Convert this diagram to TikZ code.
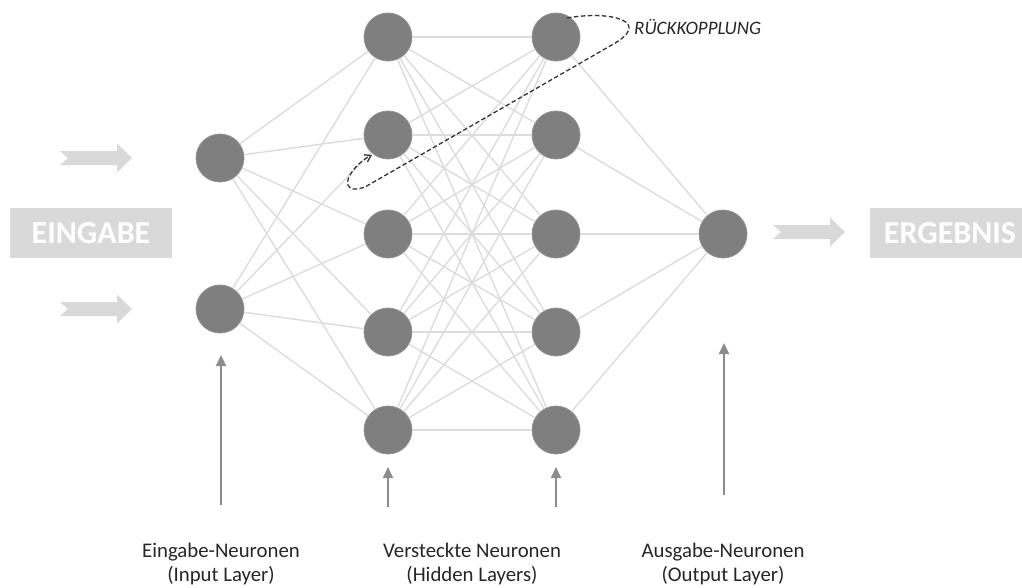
\documentclass[tikz,border=0pt]{standalone}
\usepackage{fontspec}
\setmainfont{Carlito}
\usetikzlibrary{arrows.meta}
\definecolor{neurongray}{HTML}{7F7F7F}
\definecolor{linkgray}{HTML}{DCDCDC}
\definecolor{blockgray}{HTML}{D9D9D9}
\definecolor{pointergray}{HTML}{8C8C8C}
\definecolor{loopdark}{HTML}{333333}
\tikzset{
  neuron/.style={circle, fill=neurongray, draw=neurongray!85!white, line width=0.8pt, minimum size=48pt, inner sep=0pt},
  link/.style={draw=linkgray, line width=1.4pt},
  blockbox/.style={fill=blockgray, text=white, inner sep=0pt, minimum height=50pt,
    font=\fontsize{32}{38}\selectfont\bfseries},
  fatarrow/.pic={\fill[blockgray] (0,-7) -- (57,-7) -- (57,-14.5) -- (72,0) -- (57,14.5) -- (57,7) -- (0,7) -- (8,0) -- cycle;},
  pointer/.style={draw=pointergray, line width=1.8pt, -{Triangle[width=10pt,length=11pt]}},
  layerlabel/.style={anchor=north, align=center, inner sep=0pt, text=black!85,
    font=\fontsize{20.8}{24}\selectfont},
  feedback/.style={draw=loopdark, line width=1.3pt, dash pattern=on 4.5pt off 2.5pt, -{Straight Barb[length=6pt,width=8pt]}}
}
\begin{document}
\begin{tikzpicture}[x=1pt,y=-1pt]
\useasboundingbox (0,0) rectangle (1022,587);
\clip (0,0) rectangle (1022,587);

% input and result blocks
\node[blockbox, minimum width=162pt] (eingabe) at (91,233) {EINGABE};
\node[blockbox, minimum width=160pt] (ergebnis) at (950,233) {ERGEBNIS};

% flow arrows
\pic at (60,158) {fatarrow};
\pic at (60,309) {fatarrow};
\pic at (773,232) {fatarrow};

% neurons
\node[neuron] (i1) at (220,158) {};
\node[neuron] (i2) at (220,309) {};
\foreach \k/\y in {1/37,2/135,3/234,4/332,5/430}{
  \node[neuron] (a\k) at (388,\y) {};
  \node[neuron] (b\k) at (556,\y) {};
}
\node[neuron] (o) at (723,234) {};

% weighted connections
\foreach \s in {i1,i2}{
  \foreach \t in {1,...,5}{ \path[link] (\s) -- (a\t); }
}
\foreach \s in {1,...,5}{
  \foreach \t in {1,...,5}{ \path[link] (a\s) -- (b\t); }
  \path[link] (b\s) -- (o);
}

% feedback loop
\draw[feedback] (567,18) .. controls (612,10) and (655,22) .. (610,46)
  -- (365,187) .. controls (336,197) and (347,168) .. (372,155);
\node[anchor=west, inner sep=0pt, text=black!85, font=\fontsize{19}{23}\selectfont\itshape] (rk) at (634,27) {RÜCKKOPPLUNG};

% layer pointers
\coordinate (pi) at (221,505);
\coordinate (pa) at (388,507);
\coordinate (pb) at (556,507);
\coordinate (po) at (724,495);
\coordinate (ti) at (221,355);
\coordinate (ta) at (388,467);
\coordinate (tb) at (556,467);
\coordinate (to) at (724,343);
\draw[pointer] (pi) -- (ti);
\draw[pointer] (pa) -- (ta);
\draw[pointer] (pb) -- (tb);
\draw[pointer] (po) -- (to);

% layer captions
\node[layerlabel] (li) at (221,543) {Eingabe-Neuronen\\(Input Layer)};
\node[layerlabel] (lh) at (472,543) {Versteckte Neuronen\\(Hidden Layers)};
\node[layerlabel] (lo) at (723,543) {Ausgabe-Neuronen\\(Output Layer)};
\end{tikzpicture}
\end{document}
